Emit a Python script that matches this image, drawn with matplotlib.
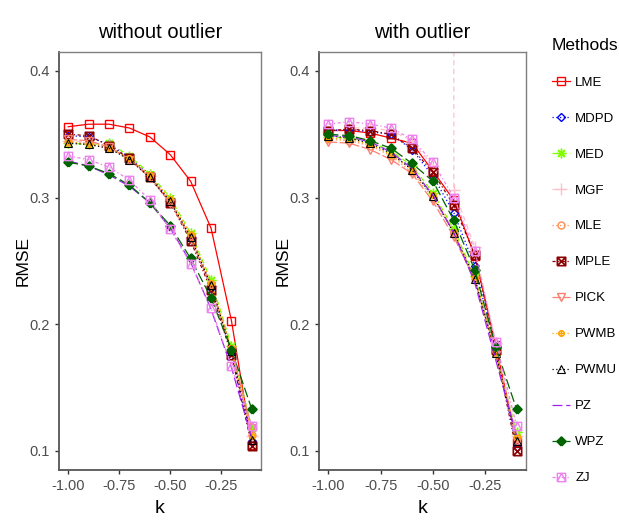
import numpy as np
import matplotlib
matplotlib.use("Agg")
import matplotlib.pyplot as plt
from matplotlib.path import Path
from matplotlib.lines import Line2D

plt.rcParams["font.family"] = ["Liberation Sans", "DejaVu Sans"]

K = [-1.0, -0.9, -0.8, -0.7, -0.6, -0.5, -0.4, -0.3, -0.2, -0.1]

METHODS = ["LME", "MDPD", "MED", "MGF", "MLE", "MPLE", "PICK", "PWMB", "PWMU", "PZ", "WPZ", "ZJ"]

# RMSE without outlier
rmse_clean = {
    "LME":  [0.356, 0.358, 0.358, 0.355, 0.348, 0.334, 0.313, 0.276, 0.203, 0.105],
    "MDPD": [0.349, 0.348, 0.342, 0.332, 0.318, 0.297, 0.268, 0.229, 0.177, 0.108],
    "MED":  [0.343, 0.342, 0.343, 0.333, 0.319, 0.300, 0.272, 0.235, 0.183, 0.118],
    "MGF":  [0.345, 0.344, 0.341, 0.331, 0.317, 0.297, 0.268, 0.230, 0.178, 0.112],
    "MLE":  [0.344, 0.343, 0.340, 0.331, 0.317, 0.298, 0.270, 0.232, 0.180, 0.113],
    "MPLE": [0.350, 0.349, 0.341, 0.331, 0.316, 0.296, 0.266, 0.227, 0.176, 0.104],
    "PICK": [0.346, 0.345, 0.340, 0.330, 0.316, 0.296, 0.268, 0.230, 0.180, 0.118],
    "PWMB": [0.344, 0.342, 0.339, 0.331, 0.318, 0.299, 0.271, 0.233, 0.181, 0.112],
    "PWMU": [0.343, 0.342, 0.339, 0.330, 0.316, 0.297, 0.269, 0.231, 0.179, 0.109],
    "PZ":   [0.329, 0.325, 0.318, 0.309, 0.296, 0.276, 0.249, 0.212, 0.166, 0.110],
    "WPZ":  [0.328, 0.325, 0.319, 0.310, 0.296, 0.278, 0.252, 0.221, 0.180, 0.133],
    "ZJ":   [0.333, 0.330, 0.324, 0.314, 0.298, 0.275, 0.248, 0.213, 0.167, 0.120],
}

# RMSE with outlier
rmse_outlier = {
    "LME":  [0.353, 0.353, 0.351, 0.347, 0.343, 0.321, 0.298, 0.254, 0.184, 0.107],
    "MDPD": [0.353, 0.354, 0.352, 0.350, 0.338, 0.317, 0.288, 0.246, 0.180, 0.103],
    "MED":  [0.348, 0.347, 0.344, 0.337, 0.325, 0.304, 0.275, 0.238, 0.178, 0.115],
    "MGF":  [0.352, 0.355, 0.355, 0.353, 0.345, 0.325, 0.306, 0.261, 0.185, 0.112],
    "MLE":  [0.346, 0.345, 0.341, 0.333, 0.320, 0.300, 0.272, 0.236, 0.178, 0.110],
    "MPLE": [0.353, 0.354, 0.353, 0.350, 0.339, 0.320, 0.294, 0.255, 0.180, 0.100],
    "PICK": [0.344, 0.343, 0.338, 0.330, 0.319, 0.297, 0.269, 0.235, 0.176, 0.108],
    "PWMB": [0.347, 0.346, 0.342, 0.334, 0.322, 0.302, 0.273, 0.237, 0.177, 0.111],
    "PWMU": [0.349, 0.347, 0.343, 0.335, 0.322, 0.301, 0.272, 0.236, 0.177, 0.108],
    "PZ":   [0.349, 0.348, 0.344, 0.336, 0.323, 0.302, 0.272, 0.233, 0.172, 0.112],
    "WPZ":  [0.350, 0.349, 0.345, 0.339, 0.327, 0.313, 0.282, 0.243, 0.182, 0.133],
    "ZJ":   [0.358, 0.360, 0.358, 0.355, 0.346, 0.328, 0.300, 0.258, 0.186, 0.120],
}
# MGF with outlier blows up at k = -0.4 (off the scale)
mgf_spike_k = -0.4
mgf_spike_value = 0.6

Y_TICKS = [0.1, 0.2, 0.3, 0.4]
X_TICKS = [-1.00, -0.75, -0.50, -0.25]
X_TICK_LABELS = ["-1.00", "-0.75", "-0.50", "-0.25"]

# custom R-like markers
box_x = Path([(-1, -1), (1, -1), (1, 1), (-1, 1), (-1, -1), (-1, -1), (1, 1), (-1, 1), (1, -1)],
             [1, 2, 2, 2, 2, 1, 2, 1, 2])
box_tri = Path([(-1, -1), (1, -1), (1, 1), (-1, 1), (-1, -1), (-1, -1), (0, 1), (1, -1)],
               [1, 2, 2, 2, 2, 1, 2, 2])
circ_plus = Path.make_compound_path(
    Path.unit_circle(),
    Path([(-1, 0), (1, 0), (0, -1), (0, 1)], [1, 2, 1, 2]),
)
diam_plus = Path([(0, -1), (1, 0), (0, 1), (-1, 0), (0, -1), (-1, 0), (1, 0), (0, -1), (0, 1)],
                 [1, 2, 2, 2, 2, 1, 2, 1, 2])

STYLE = {
    "LME":  dict(color="#FF0000", ls="-", marker="s", ms=6, mew=1.0),
    "MDPD": dict(color="#0000FF", ls=(0, (1, 2)), marker="D", ms=4.5, mew=1.0),
    "MED":  dict(color="#7FFF00", ls=(0, (4, 3)), marker=(8, 2, 0), ms=7, mew=1.0),
    "MGF":  dict(color="#FFC0CB", ls=(0, (4, 3)), marker="+", ms=8, mew=1.0),
    "MLE":  dict(color="#FF8C50", ls=(0, (1, 2)), marker="o", ms=5, mew=1.0),
    "MPLE": dict(color="#8B0000", ls=(0, (2.5, 2, 1, 2)), marker=box_x, ms=6, mew=1.2),
    "PICK": dict(color="#FA8072", ls=(0, (7, 2)), marker="v", ms=6, mew=1.0),
    "PWMB": dict(color="#FFA500", ls=(0, (1, 2)), marker=circ_plus, ms=4, mew=1.0),
    "PWMU": dict(color="#000000", ls=(0, (1, 2)), marker="^", ms=6, mew=0.8),
    "PZ":   dict(color="#A020F0", ls=(0, (8, 3)), marker=None, ms=0, mew=1.0),
    "WPZ":  dict(color="#006400", ls=(0, (8, 3)), marker=diam_plus, ms=6, mew=1.6),
    "ZJ":   dict(color="#EE82EE", ls=(0, (2.5, 2, 1, 2)), marker=box_tri, ms=6, mew=1.0),
}

W, H = 619, 526
fig = plt.figure(figsize=(W / 100, H / 100), dpi=100)


def px_axes(x0, y0, x1, y1):
    return fig.add_axes([x0 / W, 1 - y1 / H, (x1 - x0) / W, (y1 - y0) / H])


def draw_series(ax, k, y, st):
    ax.plot(k, y, color=st["color"], ls=st["ls"], lw=0.9,
            marker=st["marker"], ms=st["ms"], mfc="none", mec=st["color"], mew=st["mew"])


def style_panel(ax, title):
    ax.set_xlim(-1.045, -0.055)
    ax.set_ylim(0.085, 0.415)
    ax.set_yticks(Y_TICKS)
    ax.set_yticklabels([f"{v:.1f}" for v in Y_TICKS])
    ax.set_xticks(X_TICKS)
    ax.set_xticklabels(X_TICK_LABELS)
    ax.tick_params(colors="#333333", labelcolor="#4D4D4D", labelsize=10.5, length=3, width=1)
    for side in ["top", "right"]:
        ax.spines[side].set_color("#7F7F7F")
        ax.spines[side].set_linewidth(1.0)
    for side in ["left", "bottom"]:
        ax.spines[side].set_color("#555555")
        ax.spines[side].set_linewidth(1.3)
    ax.set_title(title, fontsize=14.5, pad=10)
    ax.set_xlabel("k", fontsize=14, labelpad=5)
    ax.set_ylabel("RMSE", fontsize=12.5, labelpad=-1)


ax1 = px_axes(59, 52, 261, 470)
for m in METHODS:
    draw_series(ax1, K, rmse_clean[m], STYLE[m])
style_panel(ax1, "without outlier")

ax2 = px_axes(319, 52, 526, 470)
for m in METHODS:
    if m == "MGF":
        i = K.index(mgf_spike_k)
        k_m = K[:i] + [np.nan, K[i], K[i]] + K[i + 1:]
        y_m = rmse_outlier[m][:i] + [np.nan, mgf_spike_value, rmse_outlier[m][i]] + rmse_outlier[m][i + 1:]
        draw_series(ax2, k_m, y_m, STYLE[m])
    else:
        draw_series(ax2, K, rmse_outlier[m], STYLE[m])
style_panel(ax2, "with outlier")

handles = [Line2D([], [], color=STYLE[m]["color"], ls=STYLE[m]["ls"], lw=0.9,
                  marker=STYLE[m]["marker"], ms=STYLE[m]["ms"], mfc="none",
                  mec=STYLE[m]["color"], mew=STYLE[m]["mew"]) for m in METHODS]
fig.legend(handles, METHODS, title="Methods", loc="upper left",
           bbox_to_anchor=(541 / W, 1 - 27 / H), frameon=False, fontsize=9.5,
           title_fontsize=12.5, handlelength=1.4, handletextpad=0.4,
           labelspacing=1.8, alignment="left", borderpad=0.3)

fig.savefig("out.png", dpi=100)
